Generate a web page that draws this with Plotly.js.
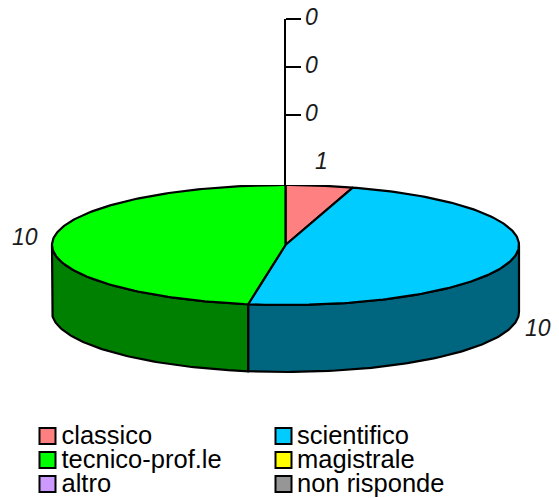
<!DOCTYPE html>
<html><head><meta charset="utf-8">
<script src="https://cdn.plot.ly/plotly-3.0.1.min.js"></script>
<style>html,body{margin:0;padding:0;background:#fff}</style></head>
<body><div id="c" style="width:559px;height:498px"></div>
<script>
const categories=["classico","scientifico","tecnico-prof.le","magistrale","altro","non risponde"];
const values=[1,10.3,10.2,0,0,0];
const topColors=["#ff8080","#00ccff","#00ff00","#ffff00","#cc99ff","#969696"];
const sideColors=["#804040","#006680","#008000","#808000","#664c80","#4b4b4b"];
const axisTicks=[1,2,3];
const axisLabels=["0","0","0"];
const cx=285.5,cy=245,rx=233.5,ry=60,depth=67;
const legendRows=[436,460,484];
const pt=a=>{const r=a*Math.PI/180;return [cx+rx*Math.sin(r),cy-ry*Math.cos(r)];};
const arc=(a,b)=>{const o=[];const n=Math.max(2,Math.ceil(Math.abs(b-a)));for(let i=0;i<=n;i++)o.push(pt(a+(b-a)*i/n));return o;};
const total=values.reduce((s,v)=>s+v,0);
const traces=[];
let start=0;const slices=[];
values.forEach((v,i)=>{const end=start+v/total*360;if(v>0)slices.push({i,start,end});start=end;});
const poly=(pts,fill)=>({type:'scatter',mode:'lines',x:pts.map(p=>p[0]),y:pts.map(p=>p[1]),fill:'toself',fillcolor:fill,
  line:{color:'#000',width:2.2,shape:'linear'},hoverinfo:'skip',showlegend:false});
slices.forEach(s=>{
  const a=Math.max(s.start,90),b=Math.min(s.end,270);
  if(b>a){const t=arc(a,b);const d=t.slice().reverse().map(p=>[p[0],p[1]+depth]);
    traces.push(poly(t.concat(d,[t[0]]),sideColors[s.i]));}
});
slices.forEach(s=>{
  const t=arc(s.start,s.end);
  traces.push(poly([[cx,cy]].concat(t,[[cx,cy]]),topColors[s.i]));
});
categories.forEach((c,i)=>{
  const col=i%2,row=(i-col)/2;
  traces.push({type:'scatter',mode:'markers',x:[col?283.5:47.5],y:[legendRows[row]],
    marker:{symbol:'square',size:16,color:topColors[i],line:{color:'#000',width:2}},hoverinfo:'skip',showlegend:false});
  traces.push({type:'scatter',mode:'text',x:[col?297:61.5],y:[legendRows[row]+1.5],text:[c],textposition:'middle right',
    textfont:{family:'Liberation Sans',size:25.5,color:'#000'},hoverinfo:'skip',showlegend:false});
});
traces.push({type:'scatter',mode:'markers',x:axisTicks.map(()=>cx),y:axisTicks,yaxis:'y2',marker:{opacity:0,size:1},hoverinfo:'skip',showlegend:false});
const valFont={family:'Liberation Sans',size:23,color:'#1a1a1a',style:'italic'};
const ann=(x,y,t)=>({x,y,text:t,showarrow:false,font:valFont,xref:'x',yref:'y',xanchor:'center',yanchor:'middle'});
const axisAnn=axisTicks.map((v,i)=>({x:311,y:v,text:axisLabels[i],showarrow:false,font:valFont,xref:'x',yref:'y2',xanchor:'center',yanchor:'middle',yshift:2}));
Plotly.newPlot('c',traces,{
  width:559,height:498,margin:{l:0,r:0,t:0,b:0},paper_bgcolor:'#fff',plot_bgcolor:'#fff',showlegend:false,
  xaxis:{range:[0,559],visible:false,fixedrange:true},
  yaxis:{range:[498,0],visible:false,fixedrange:true,domain:[0,1]},
  yaxis2:{domain:[1-185/498,1-19/498],range:[1-70/48,3],anchor:'free',position:285/559,side:'right',
    tickmode:'array',tickvals:axisTicks,ticktext:axisLabels,showticklabels:false,ticks:'outside',ticklen:15,tickwidth:2,tickcolor:'#000',
    showline:true,linewidth:2,linecolor:'#000',showgrid:false,zeroline:false,fixedrange:true},
  annotations:axisAnn.concat([ann(321,161,String(Math.round(values[0]))),ann(538,328,String(Math.round(values[1]))),ann(25,237,String(Math.round(values[2])))])
},{displayModeBar:false,staticPlot:true});
</script></body></html>
